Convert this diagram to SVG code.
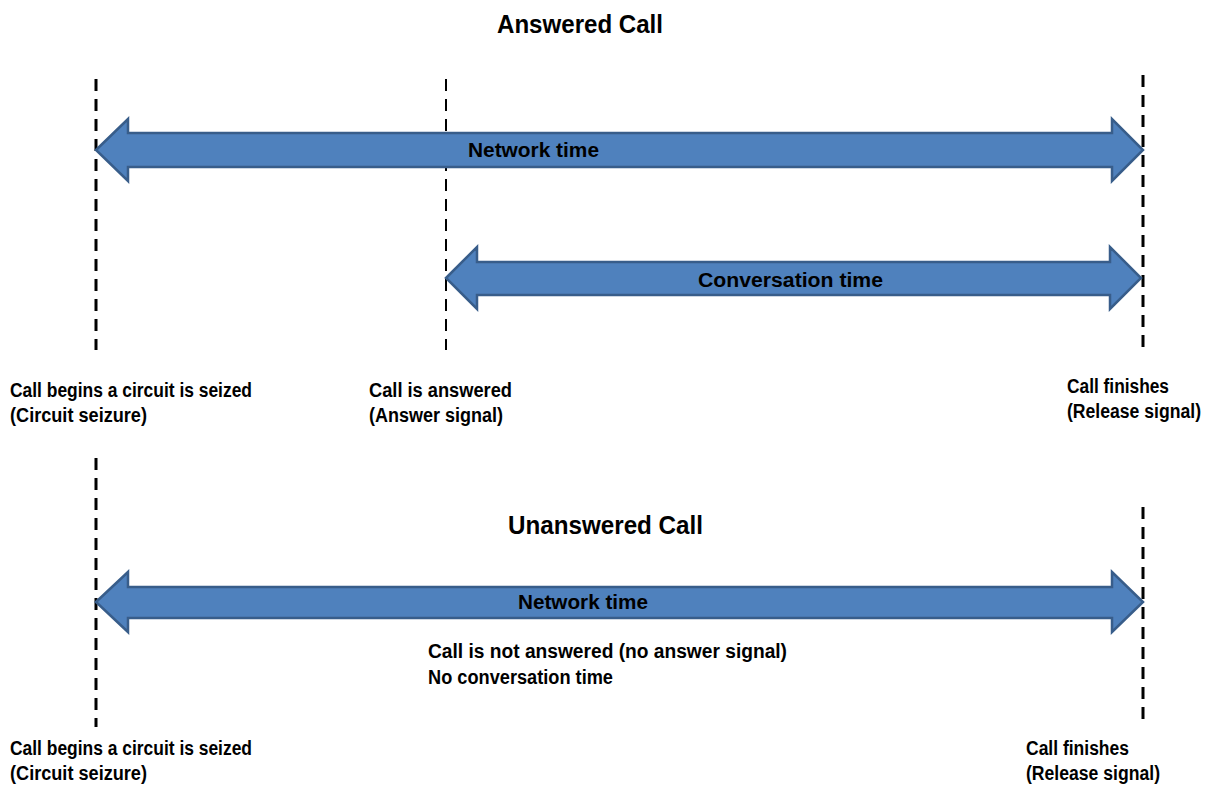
<svg xmlns="http://www.w3.org/2000/svg" width="1211" height="787" viewBox="0 0 1211 787">
<style>
.t{font-family:"Liberation Sans",Arial,sans-serif;font-weight:bold;fill:#000}
.lbl{font-size:20px}
.ttl{font-size:25px}
.arr{fill:#4F81BD;stroke:#385D8A;stroke-width:2.5;stroke-linejoin:miter}
.dash{stroke:#000;stroke-width:3;stroke-dasharray:12 8;fill:none}
.dthin{stroke:#000;stroke-width:2;stroke-dasharray:12 8;fill:none}
</style>
<rect width="1211" height="787" fill="#fff"/>
<g id="connectors">
<line class="dash" x1="96" y1="79" x2="96" y2="350"/>
<line class="dthin" x1="446" y1="79" x2="446" y2="350"/>
<line class="dash" x1="1143" y1="75" x2="1143" y2="350"/>
<line class="dash" x1="96" y1="458" x2="96" y2="727"/>
<line class="dash" x1="1143" y1="507" x2="1143" y2="727"/>
</g>
<g id="title-answered"><text class="t ttl" x="497" y="33" textLength="166" lengthAdjust="spacingAndGlyphs">Answered Call</text></g>
<g id="network-time-1">
<polygon class="arr" points="96,150 128,119 128,133 1112,133 1112,119 1143,150 1112,181 1112,167 128,167 128,181"/>
<text class="t lbl" x="468" y="157" textLength="131" lengthAdjust="spacingAndGlyphs" font-size="19">Network time</text>
</g>
<g id="conversation-time">
<polygon class="arr" points="446,278 477,247 477,262 1110,262 1110,247 1141,278 1110,309 1110,295 477,295 477,309"/>
<text class="t lbl" x="698" y="287" textLength="185" lengthAdjust="spacingAndGlyphs">Conversation time</text>
</g>
<g id="label-begin-1">
<text class="t lbl" x="10" y="397" textLength="242" lengthAdjust="spacingAndGlyphs">Call begins a circuit is seized</text>
<text class="t lbl" x="10" y="422" textLength="137" lengthAdjust="spacingAndGlyphs">(Circuit seizure)</text>
</g>
<g id="label-answered">
<text class="t lbl" x="369" y="397" textLength="143" lengthAdjust="spacingAndGlyphs">Call is answered</text>
<text class="t lbl" x="369" y="422" textLength="134" lengthAdjust="spacingAndGlyphs">(Answer signal)</text>
</g>
<g id="label-finish-1">
<text class="t lbl" x="1067" y="393" textLength="102" lengthAdjust="spacingAndGlyphs">Call finishes</text>
<text class="t lbl" x="1067" y="418" textLength="134" lengthAdjust="spacingAndGlyphs">(Release signal)</text>
</g>
<g id="title-unanswered"><text class="t ttl" x="508" y="534" textLength="195" lengthAdjust="spacingAndGlyphs">Unanswered Call</text></g>
<g id="network-time-2">
<polygon class="arr" points="96,602 128,572 128,587 1112,587 1112,572 1143,602 1112,632 1112,618 128,618 128,632"/>
<text class="t lbl" x="518" y="609" textLength="130" lengthAdjust="spacingAndGlyphs" font-size="19">Network time</text>
</g>
<g id="label-not-answered">
<text class="t lbl" x="428" y="658" textLength="359" lengthAdjust="spacingAndGlyphs">Call is not answered (no answer signal)</text>
<text class="t lbl" x="428" y="684" textLength="185" lengthAdjust="spacingAndGlyphs">No conversation time</text>
</g>
<g id="label-begin-2">
<text class="t lbl" x="10" y="755" textLength="242" lengthAdjust="spacingAndGlyphs">Call begins a circuit is seized</text>
<text class="t lbl" x="10" y="780" textLength="137" lengthAdjust="spacingAndGlyphs">(Circuit seizure)</text>
</g>
<g id="label-finish-2">
<text class="t lbl" x="1026" y="755" textLength="103" lengthAdjust="spacingAndGlyphs">Call finishes</text>
<text class="t lbl" x="1026" y="780" textLength="134" lengthAdjust="spacingAndGlyphs">(Release signal)</text>
</g>
</svg>
